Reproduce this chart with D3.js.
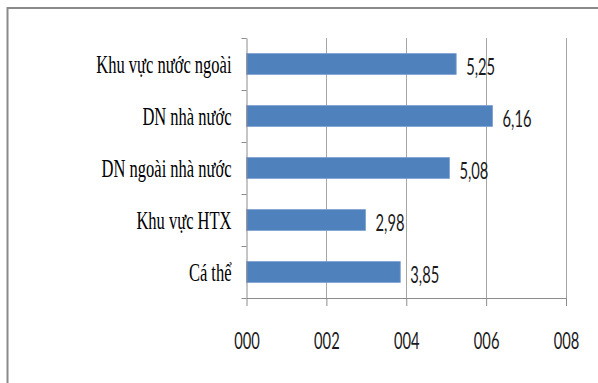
<!DOCTYPE html>
<html>
<head>
<meta charset="utf-8">
<script src="https://cdn.jsdelivr.net/npm/d3@7"></script>
<style>
  html, body { margin: 0; padding: 0; background: #fff; }
  svg { display: block; }
  .cat { font-family: "Liberation Serif", "Times New Roman", serif; }
  .num { font-family: Lato, "Open Sans", sans-serif; }
</style>
</head>
<body>
<svg id="chart" width="598" height="383"></svg>
<script>
// Sectors, top to bottom
const categories = ["Khu vực nước ngoài", "DN nhà nước", "DN ngoài nhà nước", "Khu vực HTX", "Cá thể"];
const values = [5.25, 6.16, 5.08, 2.98, 3.85];
const tickValues = [0, 2, 4, 6, 8];
const tickLabels = ["000", "002", "004", "006", "008"];

(function draw() {
  const svg = d3.select("#chart");
  const W = 598, H = 383;
  const plotLeft = 246.5, plotRight = 566, plotTop = 38, plotBottom = 298;
  const squeeze = 0.64; // narrow glyph width

  const x = d3.scaleLinear().domain([0, 8]).range([plotLeft, plotRight]);
  const y = d3.scaleBand().domain(categories).range([plotTop, plotBottom]).paddingInner(0.6).paddingOuter(0.3);
  const yb = d3.scaleBand().domain(categories).range([plotTop, plotBottom]);

  // frame (top and left edges)
  svg.append("path")
    .attr("d", `M7.5,${H} L7.5,8 L${W},8`)
    .attr("fill", "none").attr("stroke", "#8a8a8a").attr("stroke-width", 2);

  // vertical gridlines
  svg.append("g").selectAll("line")
    .data(tickValues.filter(d => d > 0))
    .join("line")
    .attr("x1", d => Math.round(x(d)) + 0.5).attr("x2", d => Math.round(x(d)) + 0.5)
    .attr("y1", plotTop).attr("y2", plotBottom)
    .attr("stroke", "#a6a6a6").attr("stroke-width", 1);

  // bars
  svg.append("g").selectAll("rect")
    .data(categories)
    .join("rect")
    .attr("x", x(0))
    .attr("y", d => y(d))
    .attr("width", (d, i) => x(values[i]) - x(0))
    .attr("height", y.bandwidth())
    .attr("fill", "#4f81bd")
    .attr("stroke", "#7a9fd0").attr("stroke-width", 0.8);

  // x axis
  const xAxis = svg.append("g")
    .attr("transform", `translate(0,${plotBottom})`)
    .call(d3.axisBottom(x).tickValues(tickValues).tickSize(8).tickSizeOuter(0)
      .tickFormat((d, i) => tickLabels[i]));
  xAxis.attr("font-family", null).attr("font-size", null);
  xAxis.select(".domain").attr("stroke", "#8c8c8c");
  xAxis.selectAll(".tick line").attr("stroke", "#8c8c8c");
  xAxis.selectAll(".tick text")
    .attr("class", "num")
    .attr("y", 0).attr("dy", null)
    .attr("transform", `translate(0,51) scale(${squeeze},1)`)
    .attr("font-size", 23)
    .attr("fill", "#1a1a1a");

  // y axis
  const yAxis = svg.append("g")
    .attr("transform", `translate(${plotLeft},0)`)
    .call(d3.axisLeft(yb).tickSize(0).tickSizeOuter(0));
  yAxis.attr("font-family", null).attr("font-size", null);
  yAxis.select(".domain").attr("stroke", "#8c8c8c");
  yAxis.selectAll(".tick text")
    .attr("class", "cat")
    .attr("x", 0).attr("dy", null).attr("y", 0)
    .attr("transform", `translate(-15,8.5) scale(${squeeze + 0.02},1)`)
    .attr("font-size", 25)
    .attr("fill", "#000");

  // category boundary ticks
  svg.append("g").selectAll("line")
    .data(d3.range(categories.length + 1))
    .join("line")
    .attr("x1", plotLeft - 5).attr("x2", plotLeft)
    .attr("y1", i => Math.round(plotTop + i * yb.step()) + 0.5)
    .attr("y2", i => Math.round(plotTop + i * yb.step()) + 0.5)
    .attr("stroke", "#8c8c8c");

  // value labels
  svg.append("g").selectAll("text")
    .data(categories)
    .join("text")
    .attr("class", "num")
    .attr("transform", (d, i) => `translate(${x(values[i]) + 10},${yb(d) + yb.bandwidth() / 2 + 10.5}) scale(${squeeze},1)`)
    .attr("font-size", 23)
    .attr("fill", "#1a1a1a")
    .text((d, i) => values[i].toFixed(2).replace(".", ","));
})();
</script>
</body>
</html>
